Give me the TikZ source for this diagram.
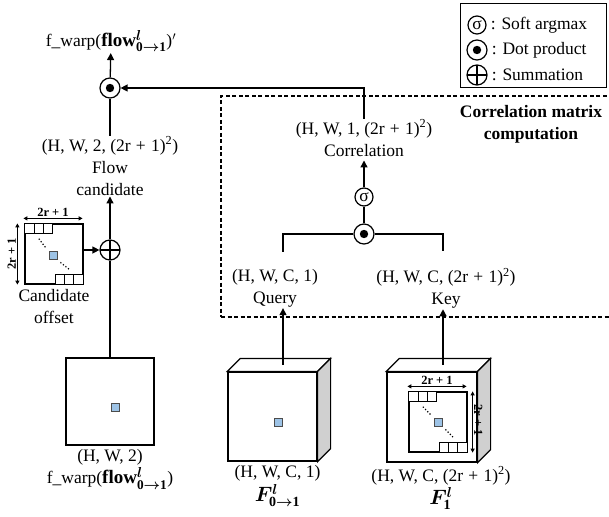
\documentclass[tikz,border=0pt]{standalone}
\usepackage{amsmath}
\usepackage{fontspec}
\setmainfont{Liberation Serif}
\usepackage{bm}
\usetikzlibrary{
  positioning, arrows.meta, calc
}
\definecolor{cellblue}{RGB}{157,195,230}
\definecolor{sidegray}{RGB}{208,208,208}
\newcommand{\lblsize}{\fontsize{17.5}{22}\selectfont}
\newcommand{\dimsize}{\fontsize{12.5}{14}\selectfont\bfseries}
\newcommand{\winsq}{(2r\hspace{0.3em}+\hspace{0.3em}1)\textsuperscript{2}}
\newcommand{\flowterm}{{\fontsize{19}{22}\selectfont\textbf{flow}$^{\bm{l}}_{\mathbf{0}\bm{\to}\mathbf{1}}$}}
\tikzset{
  arrow/.style={-{Triangle[length=7pt, width=7pt]}, line width=1.3pt},
  conn/.style={line width=1.3pt},
  dimarrow/.style={{Triangle[length=4pt, width=4pt]}-{Triangle[length=4pt, width=4pt]}, line width=1pt},
  lbl/.style={align=center, inner sep=1pt, font=\lblsize},
  opcircle/.style={circle, draw, line width=1.2pt, minimum size=20pt, inner sep=0pt},
  dotop/.style={opcircle, path picture={\fill (path picture bounding box.center) circle (4.2pt);}},
  sumop/.style={opcircle, path picture={
    \draw[line width=1.2pt] (path picture bounding box.north) -- (path picture bounding box.south)
      (path picture bounding box.west) -- (path picture bounding box.east);}},
  sigop/.style={opcircle, minimum size=18pt, font=\lblsize},
  face/.style={draw, line width=1.2pt, fill=white, inner sep=0pt},
  cell/.style={draw, line width=1pt, fill=white, minimum size=9.3pt, inner sep=0pt},
  bluecell/.style={draw=black!70, line width=0.8pt, fill=cellblue, minimum size=8pt, inner sep=0pt},
  dimlbl/.style={font=\dimsize, inner sep=1pt},
  dashbox/.style={draw, line width=1.2pt, dash pattern=on 4pt off 2.5pt}
}

\begin{document}
\begin{tikzpicture}[x=1pt, y=-1pt]
\useasboundingbox (0,0) rectangle (609,516);

%% Legend
\node[draw, line width=1pt, minimum width=146pt, minimum height=84pt] (legend) at (533,46) {};
\node[sigop] (lgsig) at (477,25) {σ};
\node[dotop] (lgdot) at (477,50) {};
\node[sumop] (lgsum) at (477,75) {};
\node[lbl, right=3pt of lgsig] (lgsigtxt) {: Soft argmax};
\node[lbl, right=3pt of lgdot] (lgdottxt) {: Dot product};
\node[lbl, right=3pt of lgsum] (lgsumtxt) {: Summation};

%% Correlation matrix computation
\node[dashbox, minimum width=391pt, minimum height=221pt] (corrbox) at (416.5,206.5) {};
\node[lbl, font=\lblsize\bfseries] (corrtitle) at (531,124) {Correlation matrix\\computation};
\node[lbl] (corrlbl) at (364,138) {(H, W, 1, \winsq)\\Correlation};
\node[sigop] (isig) at (364,197) {σ};
\node[dotop] (idot) at (364,234) {};
\node[lbl] (qlbl) at (275,288) {(H, W, C, 1)\\Query};
\node[lbl] (klbl) at (446,288) {(H, W, C, \winsq)\\Key};

%% Flow output
\node[lbl] (outlbl) at (111,41) {f\_warp(\flowterm)$'$};
\node[dotop] (odot) at (110,88) {};
\node[lbl] (flowlbl) at (110,166) {(H, W, 2, \winsq)\\Flow\\candidate};
\node[sumop] (oplus) at (110,250) {};

%% Candidate offset
\node[face, minimum width=58pt, minimum height=60pt] (offbox) at (54,254) {};
\foreach \i in {0,1,2} {
  \node[cell, anchor=north west] (offtop\i) at ($(offbox.north west)+(9.3*\i,0)$) {};
  \node[cell, anchor=south east] (offbot\i) at ($(offbox.south east)+(-9.3*\i,0)$) {};
}
\node[bluecell] (offmid) at (53,255) {};
\draw[dotted, line width=1.2pt] ($(offtop1.south)+(0,5)$) -- ($(offmid.north west)+(-3,-3)$);
\draw[dotted, line width=1.2pt] ($(offmid.south east)+(3,3)$) -- ($(offbot1.north)+(0,-5)$);
\draw[dimarrow] ($(offbox.north west)+(-1,-5)$) -- node[dimlbl, above] (offwlbl) {2r + 1} ($(offbox.north east)+(-1,-5)$);
\draw[dimarrow] ($(offbox.north west)+(-7,0)$) -- node[dimlbl, rotate=90, above] (offhlbl) {2r + 1} ($(offbox.south west)+(-7,0)$);
\node[lbl, below=4pt of offbox] (offlbl) {Candidate\\offset};

%% Warped flow
\node[face, minimum width=88pt, minimum height=87pt] (pbox) at (110,401.5) {};
\node[bluecell] (pmid) at (115,407) {};
\node[lbl, below=3pt of pbox] (plbl) {(H, W, 2)\\f\_warp(\flowterm)};

%% Query feature
\node[face, minimum size=89pt] (qbox) at (272.5,416.5) {};
\draw[line width=1.2pt, fill=white] (qbox.north west) -- ++(13,-13) -- ($(qbox.north east)+(13,-13)$) -- (qbox.north east) -- cycle;
\draw[line width=1.2pt, fill=sidegray] (qbox.north east) -- ++(13,-13) -- ($(qbox.south east)+(13,-13)$) -- (qbox.south east) -- cycle;
\coordinate (qtop) at ($(qbox.north)+(10.5,-6.5)$);
\node[bluecell] (qmid) at (278,422) {};
\node[lbl, below=3pt of qbox, xshift=5pt] (qdim) {(H, W, C, 1)};
\node[lbl, below=0pt of qdim] (qname) {{\fontsize{20}{22}\selectfont$\bm{F}^{\bm{l}}_{\mathbf{0}\bm{\to}\mathbf{1}}$}};

%% Key feature
\node[face, minimum size=90pt] (kbox) at (432,417) {};
\draw[line width=1.2pt, fill=white] (kbox.north west) -- ++(13,-13) -- ($(kbox.north east)+(13,-13)$) -- (kbox.north east) -- cycle;
\draw[line width=1.2pt, fill=sidegray] (kbox.north east) -- ++(13,-13) -- ($(kbox.south east)+(13,-13)$) -- (kbox.south east) -- cycle;
\coordinate (ktop) at ($(kbox.north)+(11,-6.5)$);
\node[face, minimum width=58pt, minimum height=60pt] (kwin) at (438,422) {};
\foreach \i in {0,1,2} {
  \node[cell, anchor=north west] (ktopc\i) at ($(kwin.north west)+(9.3*\i,0)$) {};
  \node[cell, anchor=south east] (kbotc\i) at ($(kwin.south east)+(-9.3*\i,0)$) {};
}
\node[bluecell] (kmid) at (438,422) {};
\draw[dotted, line width=1.2pt] ($(ktopc1.south)+(0,5)$) -- ($(kmid.north west)+(-3,-3)$);
\draw[dotted, line width=1.2pt] ($(kmid.south east)+(3,3)$) -- ($(kbotc1.north)+(0,-5)$);
\draw[dimarrow] ($(kwin.north west)+(-1,-5)$) -- node[dimlbl, above] (kwlbl) {2r + 1} ($(kwin.north east)+(-1,-5)$);
\draw[dimarrow] ($(kwin.north east)+(5,0)$) -- node[dimlbl, rotate=-90, above=2pt] (khlbl) {2r + 1} ($(kwin.south east)+(5,0)$);
\node[lbl, below=3pt of kbox, xshift=9pt] (kdim) {(H, W, C, \winsq)};
\node[lbl, below=0pt of kdim] (kname) {{\fontsize{20}{22}\selectfont$\bm{F}^{\bm{l}}_{\mathbf{1}}$}};

%% Connections
\draw[arrow] (qtop) -- (qtop |- qlbl.south);
\draw[arrow] (ktop) -- (ktop |- klbl.south);
\draw[conn] (idot.west) -| ($(qtop |- qlbl.north)+(0,-16)$);
\draw[conn] (idot.east) -| ($(ktop |- klbl.north)+(0,-16)$);
\draw[conn] (idot) -- (isig);
\draw[arrow, shorten >=3pt] (isig) -- (corrlbl);
\draw[arrow] (corrlbl.north) |- (odot);
\draw[arrow] (odot) -- (outlbl);
\draw[conn] (flowlbl) -- (odot);
\draw[arrow] (oplus) -- (flowlbl);
\draw[arrow] (offbox.east |- oplus) -- (oplus.west);
\draw[conn] (oplus) -- (pbox);

\end{tikzpicture}
\end{document}
